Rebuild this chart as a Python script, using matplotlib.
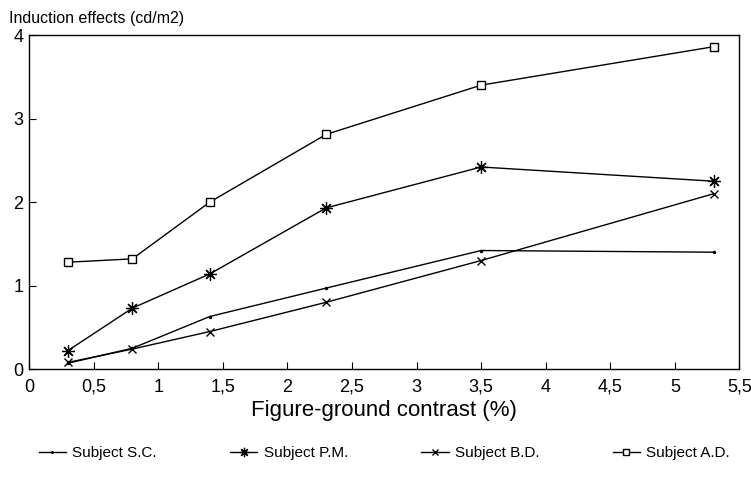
import matplotlib
matplotlib.use('Agg')
import matplotlib.pyplot as plt

# contrast levels (%) and induction effects (cd/m2) per subject
contrast = [0.3, 0.8, 1.4, 2.3, 3.5, 5.3]
subject_sc = [0.07, 0.25, 0.63, 0.97, 1.42, 1.40]
subject_pm = [0.22, 0.73, 1.14, 1.93, 2.42, 2.25]
subject_bd = [0.08, 0.24, 0.45, 0.80, 1.30, 2.10]
subject_ad = [1.28, 1.32, 2.00, 2.81, 3.40, 3.86]

x_ticks = [0, 0.5, 1, 1.5, 2, 2.5, 3, 3.5, 4, 4.5, 5, 5.5]
x_labels = ['0', '0,5', '1', '1,5', '2', '2,5', '3', '3,5', '4', '4,5', '5', '5,5']
y_ticks = [0, 1, 2, 3, 4]

plt.rcParams['font.family'] = ['Liberation Sans', 'DejaVu Sans']

fig = plt.figure(figsize=(7.51, 4.80), dpi=100)
ax = fig.add_axes([0.0386, 0.231, 0.946, 0.696])

ax.plot(contrast, subject_sc, color='black', lw=1, marker='.', ms=3, label='Subject S.C.')
ax.plot(contrast, subject_pm, color='black', lw=1, marker=(8, 2, 0), ms=9, mew=0.9, label='Subject P.M.')
ax.plot(contrast, subject_bd, color='black', lw=1, marker='x', ms=6, mew=1, label='Subject B.D.')
ax.plot(contrast, subject_ad, color='black', lw=1, marker='s', ms=6, mfc='white', mew=1, label='Subject A.D.')

ax.set_xlim(0, 5.5)
ax.set_ylim(0, 4)
ax.set_xticks(x_ticks)
ax.set_xticklabels(x_labels)
ax.set_yticks(y_ticks)
ax.tick_params(direction='in', length=5, labelsize=13, pad=7)
ax.tick_params(axis='y', pad=4)
for s in ax.spines.values():
    s.set_linewidth(1)

ax.set_xlabel('Figure-ground contrast (%)', fontsize=16, labelpad=3)
fig.text(0.012, 0.962, 'Induction effects (cd/m2)', fontsize=11.5, va='center')

ax.legend(loc='upper center', bbox_to_anchor=(0.5, -0.19), ncol=4, frameon=False,
          fontsize=11, handlelength=1.8, columnspacing=4.8, handletextpad=0.4,
          markerscale=0.75)

fig.savefig('out.png', dpi=100)
